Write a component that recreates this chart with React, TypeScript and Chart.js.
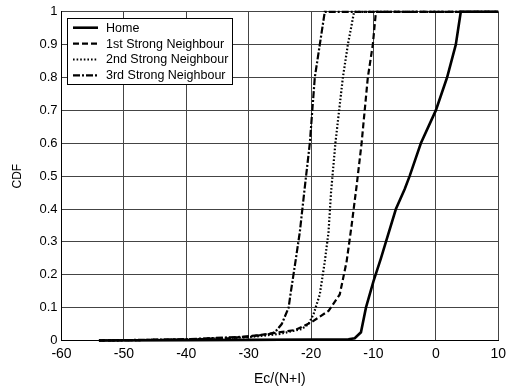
import React, { useEffect, useRef } from "react";
import { Chart, registerables } from "chart.js";

Chart.register(...registerables);

const seriesNames = ["Home", "1st Strong Neighbour", "2nd Strong Neighbour", "3rd Strong Neighbour"];

const homeX = [-54, -40, -30, -20, -14, -13, -12, -11.2, -10, -8.8, -8, -6.4, -5, -4.2, -2.4, 0, 1.8, 3.2, 3.6, 4, 10];
const homeY = [0, 0.001, 0.002, 0.003, 0.004, 0.007, 0.025, 0.1, 0.18, 0.25, 0.3, 0.4, 0.46, 0.5, 0.6, 0.7, 0.8, 0.9, 0.95, 1, 1];

const firstX = [-54, -40, -33, -28, -22.5, -20, -17.2, -15.4, -14.3, -13.5, -12.7, -11.9, -10.9, -10.1, -9.6, 10];
const firstY = [0, 0.003, 0.007, 0.017, 0.032, 0.055, 0.09, 0.14, 0.24, 0.35, 0.47, 0.6, 0.8, 0.9, 1, 1];

const secondX = [-54, -40, -30, -25, -21.5, -20.4, -19.6, -18.6, -17.8, -17.2, -16.8, -16.1, -14.9, -14.1, -13.1, 10];
const secondY = [0, 0.003, 0.01, 0.02, 0.035, 0.05, 0.08, 0.14, 0.24, 0.33, 0.45, 0.6, 0.8, 0.9, 1, 1];

const thirdX = [-54, -40, -30, -26.5, -25.7, -24.7, -23.6, -23.3, -22.5, -21.8, -21.1, -20.2, -19.4, -18.6, -17.8, 10];
const thirdY = [0, 0.004, 0.012, 0.02, 0.027, 0.05, 0.1, 0.14, 0.24, 0.33, 0.45, 0.6, 0.8, 0.9, 1, 1];

const xTickLabels = ["-60", "-50", "-40", "-30", "-20", "-10", "0", "10"];
const yTickLabels = ["0", "0.1", "0.2", "0.3", "0.4", "0.5", "0.6", "0.7", "0.8", "0.9", "1"];

const dashes: number[][] = [[], [6, 3], [1.6, 2], [7, 2, 2, 2]];
const widths = [2.6, 2.2, 2.2, 2.2];

function pts(xs: number[], ys: number[]) {
  return xs.map((x, i) => ({ x, y: ys[i] }));
}

const legendPlugin = {
  id: "boxLegend",
  afterDraw(chart: any) {
    const ctx = chart.ctx;
    const left = 67.5, top = 18.5, w = 165, h = 66;
    ctx.save();
    ctx.fillStyle = "#fff";
    ctx.fillRect(left, top, w, h);
    ctx.strokeStyle = "#000";
    ctx.lineWidth = 1;
    ctx.strokeRect(left, top, w, h);
    ctx.font = "12.5px 'Liberation Sans', Arial, sans-serif";
    ctx.textBaseline = "middle";
    ctx.fillStyle = "#000";
    seriesNames.forEach((name, i) => {
      const y = 27.7 + i * 15.9;
      ctx.beginPath();
      ctx.setLineDash(dashes[i]);
      ctx.lineWidth = widths[i];
      ctx.moveTo(73, y);
      ctx.lineTo(98, y);
      ctx.stroke();
      ctx.setLineDash([]);
      ctx.fillText(name, 106, y + 0.5);
    });
    ctx.restore();
  },
};

export default function App() {
  const ref = useRef<HTMLCanvasElement>(null);
  useEffect(() => {
    const all = [pts(homeX, homeY), pts(firstX, firstY), pts(secondX, secondY), pts(thirdX, thirdY)];
    const chart = new Chart(ref.current!, {
      type: "scatter",
      data: {
        datasets: all.map((d, i) => ({
          label: seriesNames[i],
          data: d,
          showLine: true,
          borderColor: "#000",
          backgroundColor: "#000",
          borderWidth: widths[i],
          borderDash: dashes[i],
          pointRadius: 0,
          tension: 0,
          clip: 3,
        })),
      },
      options: {
        responsive: false,
        animation: false,
        layout: { padding: { top: 11.5, right: 10, left: 0, bottom: 0 } },
        plugins: { legend: { display: false }, tooltip: { enabled: false } },
        scales: {
          x: {
            type: "linear",
            min: -60,
            max: 10,
            ticks: {
              stepSize: 10,
              color: "#000",
              padding: 5,
              maxRotation: 0,
              font: { family: "'Liberation Sans', Arial, sans-serif", size: 14 },
              callback: (_v: any, i: number) => xTickLabels[i],
            },
            grid: { color: "#444", lineWidth: 1, drawTicks: false },
            border: { color: "#000", width: 1 },
            title: {
              display: true,
              text: "Ec/(N+I)",
              color: "#000",
              padding: { top: 0, bottom: 1 },
              font: { family: "'Liberation Sans', Arial, sans-serif", size: 14 },
            },
            afterFit: (s: any) => { s.height = 48.5; },
          },
          y: {
            type: "linear",
            min: 0,
            max: 1,
            ticks: {
              stepSize: 0.1,
              color: "#000",
              padding: 4,
              font: { family: "'Liberation Sans', Arial, sans-serif", size: 13 },
              callback: (_v: any, i: number) => yTickLabels[i],
            },
            grid: { color: "#444", lineWidth: 1, drawTicks: false },
            border: { color: "#000", width: 1 },
            title: {
              display: true,
              text: "CDF",
              color: "#000",
              padding: { top: 10, bottom: 0 },
              font: { family: "'Liberation Sans', Arial, sans-serif", size: 12 },
            },
            afterFit: (s: any) => { s.width = 61.5; },
          },
        },
      },
      plugins: [legendPlugin],
    });
    return () => chart.destroy();
  }, []);
  return (
    <div style={{ position: "absolute", left: 0, top: 0, width: 511, height: 389, background: "#fff" }}>
      <canvas ref={ref} width={511} height={389} style={{ display: "block" }} />
    </div>
  );
}
